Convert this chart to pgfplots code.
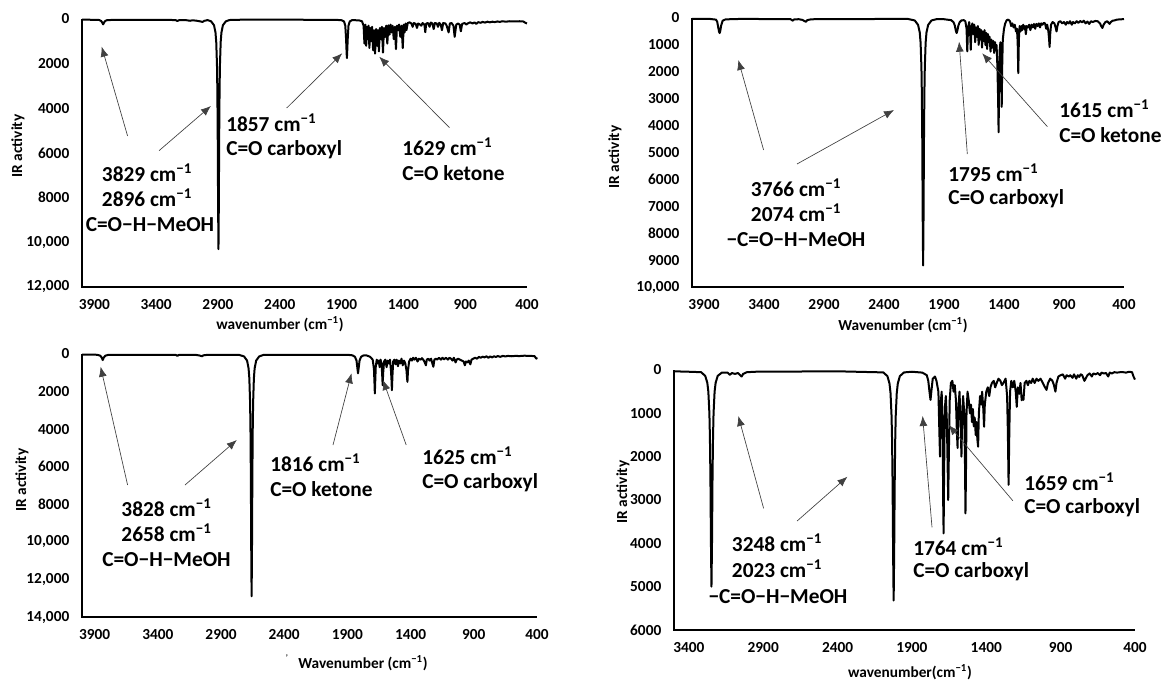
\documentclass[border=0pt]{standalone}
\usepackage{fontspec}
\setmainfont{Carlito}
\usepackage{pgfplots}
\pgfplotsset{compat=1.18}
\usetikzlibrary{arrows.meta}
\begin{document}
\begin{tikzpicture}
\pgfplotsset{irax/.style={scale only axis, x dir=reverse, y dir=reverse,
  axis line style={draw=none}, major tick length=0pt, clip=false,
  scaled y ticks=false, scaled x ticks=false,
  tick label style={font=\bfseries\fontsize{11.5}{13}\selectfont},
  xtick={400,900,1400,1900,2400,2900,3400,3900},
  xticklabels={400,900,1400,1900,2400,2900,3400,3900},
  xticklabel style={yshift=-5.5pt}, yticklabel style={xshift=-6pt},
  }}
\pgfplotsset{spec/.style={black, line width=1.5pt, line join=round, no marks}}
% ---------- Panel 1 ----------
\begin{axis}[irax, at={(82*0.75pt,-19*0.75pt)}, anchor=north west,
  width=445*0.75pt, height=268*0.75pt, xmin=400, xmax=4000, ymin=0, ymax=12000,
  ytick={0,2000,4000,6000,8000,10000,12000},
  yticklabels={0,2000,4000,6000,8000,{10,000},{12,000}}]
\addplot[spec] coordinates {
(4000,30)(3900,35)(3860,45)(3845,90)(3836,160)(3829,240)(3822,160)(3813,90)(3795,45)
(3300,35)(3240,55)(3228,90)(3216,55)(3160,50)(3125,80)(3110,60)(3080,70)(3040,110)(3025,130)(3010,80)(2990,60)
(2986,45)(2956,102)(2932,278)(2920,606)(2914,1030)(2908,2060)(2905,3170)(2902,5150)(2899,8240)(2896,10300)(2893,8240)(2890,5150)(2887,3170)(2884,2060)(2878,1030)(2872,606)(2860,278)(2836,102)(2806,45)(2700,30)
(1950,35)(1900,55)(1880,110)(1870,300)(1864,850)(1860,1400)(1857,1750)(1854,1400)(1850,850)(1844,300)(1834,110)(1815,50)(1760,60)
(1735,100)(1722,300)(1715,1100)(1708,250)(1701,1200)(1694,350)(1688,900)(1682,300)(1675,1300)(1668,400)(1661,1000)(1653,350)(1645,1400)(1637,500)(1629,1550)(1621,450)(1612,1200)(1605,500)(1598,1450)(1590,400)(1582,900)(1574,350)(1565,1500)(1557,400)(1548,800)(1539,300)(1530,1100)(1521,280)(1512,700)(1504,250)(1495,600)(1487,300)(1478,900)(1469,350)(1460,1350)(1452,300)(1445,500)(1435,250)(1425,800)(1415,300)(1405,1300)(1397,250)(1390,600)(1382,200)(1375,500)(1365,180)(1350,150)
(1335,200)(1325,350)(1315,180)(1300,220)(1290,400)(1280,200)(1265,250)(1255,300)(1245,180)(1230,250)(1223,590)(1215,200)(1200,180)(1188,350)(1178,160)(1165,200)(1155,450)(1145,180)(1130,200)(1120,350)(1110,170)(1098,250)(1088,500)(1078,180)(1060,200)(1050,300)(1034,600)(1024,200)(1010,180)(995,300)(985,800)(978,500)(972,250)(958,200)(945,250)(935,550)(925,220)(905,180)(890,250)(880,200)(860,150)(840,200)(825,150)(810,220)(795,140)(775,170)(760,130)(740,160)(720,120)(700,150)(680,120)(660,140)(640,110)(620,130)(600,100)(570,120)(540,100)(500,110)(460,100)(430,110)(410,180)(400,200)
};
\end{axis}
% ---------- Panel 2 ----------
\begin{axis}[irax, at={(692*0.75pt,-18*0.75pt)}, anchor=north west,
  width=432*0.75pt, height=269*0.75pt, xmin=400, xmax=4000, ymin=0, ymax=10000,
  ytick={0,1000,2000,3000,4000,5000,6000,7000,8000,9000,10000},
  yticklabels={0,1000,2000,3000,4000,5000,6000,7000,8000,9000,{10,000}}]
\addplot[spec] coordinates {
(4000,30)(3850,35)(3800,60)(3790,140)(3780,380)(3775,500)(3770,560)(3765,500)(3758,300)(3745,100)(3720,50)(3600,35)
(3180,40)(3160,100)(3148,50)(3110,45)(3080,70)(3060,120)(3050,140)(3040,80)(3010,50)(2950,40)
(2200,35)(2144,91)(2116,255)(2102,540)(2095,920)(2088,1840)(2084.5,2830)(2081,4600)(2077.5,7360)(2074,9200)(2070.5,7360)(2067,4600)(2063.5,2830)(2060,1840)(2053,920)(2046,540)(2032,255)(2004,91)(1960,40)
(1900,45)(1840,80)(1820,160)(1810,280)(1802,460)(1795,560)(1788,460)(1780,280)(1770,160)(1755,90)(1735,80)
(1722,120)(1712,400)(1706,1240)(1700,400)(1690,150)(1683,450)(1677,1180)(1671,400)(1664,200)(1655,600)(1648,250)(1640,900)(1633,350)(1625,700)(1618,300)(1611,1000)(1604,400)(1597,800)(1590,450)(1583,1100)(1576,500)(1569,850)(1562,450)(1555,1000)(1548,550)(1541,1150)(1534,600)(1527,900)(1520,700)(1512,1250)(1505,800)(1498,1100)(1490,850)(1482,1300)(1475,900)(1468,1200)(1462,1000)(1455,1800)(1449,3000)(1445,4250)(1441,2500)(1436,1200)(1430,900)(1424,1800)(1419,3300)(1415,1800)(1410,800)(1400,400)(1390,200)(1377,80)(1365,60)
(1350,120)(1340,300)(1330,200)(1320,350)(1310,250)(1300,500)(1292,400)(1286,900)(1281,2050)(1276,800)(1270,300)(1262,500)(1255,300)(1248,450)(1240,250)(1232,400)(1225,300)(1218,600)(1210,300)(1200,350)(1190,250)(1180,450)(1170,250)(1160,350)(1150,220)(1140,400)(1130,220)(1120,300)(1110,200)(1100,350)(1090,200)(1080,250)(1068,180)(1058,200)(1048,400)(1040,250)(1030,500)(1024,800)(1020,1080)(1015,600)(1008,250)(995,150)(980,200)(970,350)(962,500)(955,300)(945,150)(930,120)(915,200)(900,150)(885,250)(875,150)(860,200)(850,120)(835,250)(825,150)(810,200)(795,120)(780,180)(765,110)(750,160)(735,100)(720,200)(705,130)(690,220)(675,120)(660,150)(640,110)(620,120)(600,200)(590,300)(580,370)(570,250)(555,150)(540,120)(520,220)(510,150)(495,100)(480,90)(460,60)(430,50)(400,40)
};
\end{axis}
% ---------- Panel 3 ----------
\begin{axis}[irax, at={(82*0.75pt,-354*0.75pt)}, anchor=north west,
  width=455*0.75pt, height=263*0.75pt, xmin=400, xmax=4000, ymin=0, ymax=14000,
  ytick={0,2000,4000,6000,8000,10000,12000,14000},
  yticklabels={0,2000,4000,6000,8000,{10,000},{12,000},{14,000}}]
\addplot[spec] coordinates {
(4000,30)(3880,40)(3855,90)(3845,180)(3836,320)(3827,180)(3815,90)(3790,40)
(3260,40)(3245,100)(3235,50)(3100,45)(3070,80)(3050,120)(3040,70)(3000,40)
(2760,40)(2718,128)(2694,350)(2682,760)(2676,1290)(2670,2580)(2667,3970)(2664,6450)(2661,10320)(2658,12900)(2655,10320)(2652,6450)(2649,3970)(2646,2580)(2640,1290)(2634,760)(2622,350)(2598,128)(2560,40)
(1900,40)(1860,70)(1840,150)(1828,350)(1821,750)(1816,1030)(1811,750)(1804,350)(1792,150)(1775,80)(1750,70)
(1720,150)(1700,300)(1690,800)(1686,1500)(1683,2100)(1680,1500)(1676,700)(1668,300)(1660,500)(1652,350)(1645,700)(1638,300)
(1630,500)(1625,1100)(1621,1660)(1617,1000)(1610,400)(1600,300)(1590,700)(1582,350)(1572,500)(1563,300)(1555,900)(1551,1400)(1548,1925)(1544,1200)(1538,400)(1528,300)(1518,550)(1510,300)(1500,650)(1492,350)(1482,500)(1472,250)(1462,600)(1452,350)(1442,500)(1432,900)(1428,1300)(1425,1480)(1421,900)(1412,400)(1400,250)(1390,350)(1380,200)(1370,300)(1358,200)(1345,400)(1335,250)(1320,300)(1310,220)(1295,350)(1285,500)(1279,600)(1272,300)(1260,250)(1250,350)(1238,250)(1228,500)(1220,680)(1212,300)(1200,250)(1190,300)(1175,200)(1160,300)(1148,200)(1135,280)(1120,200)(1105,300)(1092,200)(1080,250)(1068,350)(1058,200)(1044,450)(1036,300)(1025,250)(1010,300)(995,350)(980,400)(971,600)(962,400)(950,450)(940,350)(927,550)(918,300)(905,250)(890,200)(875,250)(860,150)(845,200)(830,140)(815,180)(800,120)(785,200)(770,130)(755,180)(740,120)(725,160)(710,110)(690,150)(670,100)(650,130)(630,100)(600,120)(570,100)(540,110)(500,90)(460,100)(420,110)(405,250)(400,180)
};
\end{axis}
% ---------- Panel 4 ----------
\begin{axis}[irax, at={(674*0.75pt,-370*0.75pt)}, anchor=north west,
  width=461*0.75pt, height=260*0.75pt, xmin=400, xmax=3500, ymin=0, ymax=6000,
  xtick={400,900,1400,1900,2400,2900,3400},
  xticklabels={400,900,1400,1900,2400,2900,3400},
  ytick={0,1000,2000,3000,4000,5000,6000},
  yticklabels={0,1000,2000,3000,4000,5000,6000}]
\addplot[spec] coordinates {
(3500,30)(3400,40)(3318,50)(3290,135)(3276,294)(3269,500)(3262,1000)(3258.5,1540)(3255,2500)(3251.5,4000)(3248,5000)(3244.5,4000)(3241,2500)(3237.5,1540)(3234,1000)(3227,500)(3220,294)(3206,135)(3178,60)
(3140,60)(3125,110)(3110,70)(3090,90)(3070,70)(3055,120)(3045,150)(3035,90)(3010,50)(2950,40)
(2400,30)(2093,55)(2065,140)(2051,310)(2044,530)(2037,1060)(2033.5,1640)(2030,2660)(2026.5,4250)(2023,5320)(2019.5,4250)(2016,2660)(2012.5,1640)(2009,1060)(2002,530)(1995,310)(1981,140)(1953,55)(1900,40)
(1830,60)(1800,120)(1790,250)(1782,500)(1775,690)(1768,450)(1760,200)(1745,150)(1735,250)
(1722,500)(1715,1500)(1711,2000)(1707,800)(1700,500)(1693,1500)(1690,3000)(1687,3770)(1684,2500)(1679,900)(1672,600)(1665,1200)(1660,2200)(1656,3000)(1652,2000)(1646,700)(1638,300)(1628,250)(1620,500)(1612,350)(1604,700)(1598,1400)(1593,1800)(1588,900)(1580,500)(1572,1300)(1567,2000)(1563,1200)(1556,600)(1548,1000)(1543,2200)(1540,3310)(1537,2500)(1533,1000)(1526,500)(1518,700)(1510,1000)(1503,800)(1496,1200)(1490,900)(1484,1300)(1478,1100)(1471,1500)(1466,1200)(1460,1600)(1455,1770)(1450,1000)(1442,600)(1434,800)(1428,500)(1420,900)(1415,1310)(1410,800)(1400,500)(1390,400)(1380,600)(1372,400)(1362,300)(1350,250)(1340,400)(1330,300)(1318,200)(1305,250)(1295,350)(1285,300)(1270,200)(1260,600)(1255,1400)(1250,2650)(1245,1400)(1240,500)(1232,250)(1222,400)(1212,250)(1202,500)(1195,850)(1188,400)(1178,550)(1170,300)(1162,700)(1155,600)(1150,690)(1142,300)(1130,250)(1120,350)(1110,250)(1098,300)(1088,200)(1075,300)(1062,200)(1050,250)(1035,200)(1020,300)(1005,400)(995,460)(985,300)(970,200)(955,250)(945,350)(935,500)(928,300)(915,150)(900,120)(885,100)(870,200)(860,120)(845,150)(835,120)(820,180)(810,100)(795,200)(785,120)(775,160)(765,100)(755,120)(740,250)(732,200)(720,120)(705,80)(690,150)(680,80)(665,100)(650,70)(635,120)(625,60)(610,80)(595,70)(580,150)(570,60)(555,80)(540,50)(520,60)(500,50)(480,50)(460,60)(440,40)(420,50)(410,150)(400,220)
};
\end{axis}
% ---------- annotations (pixel coordinates) ----------
\begin{scope}[x=0.75pt,y=-0.75pt]
\useasboundingbox (0,0) rectangle (1164,679);
\tikzset{ax/.style={line width=1.5pt, black},
  arr/.style={line width=0.5pt, black!75, -{Latex[length=7.5pt,width=6pt]}},
  ann/.style={font=\bfseries\fontsize{16}{19}\selectfont, inner sep=0pt},
  lab/.style={font=\bfseries\fontsize{11.5}{13}\selectfont, inner sep=0pt}}
% axis lines
\draw[ax] (82,19) -- (82,287) -- (527,287);
\draw[ax] (692,18) -- (692,287) -- (1124,287);
\draw[ax] (82,354) -- (82,617) -- (537,617);
\draw[ax] (674,370) -- (674,630) -- (1135,630);
% axis labels
\node[lab] at (280,324) {wavenumber (cm\textsuperscript{−1})};
\node[lab, rotate=90] at (18,146) {IR activity};
\node[lab] at (903,325) {Wavenumber (cm\textsuperscript{−1})};
\node[lab, rotate=90] at (615,157) {IR activity};
\node[lab] at (363,663) {Wavenumber (cm\textsuperscript{−1})};
\node[lab] at (287,658) {\fontsize{6}{6}\selectfont '};
\node[lab, rotate=90] at (22,480) {IR activity};
\node[lab] at (910,672) {wavenumber(cm\textsuperscript{−1})};
\node[lab, rotate=90] at (623,492) {IR activity};
% panel 1
\draw[arr] (127.6,136) -- (101.7,46.7);
\draw[arr] (159,150.7) -- (210.9,106);
\draw[arr] (286.7,108) -- (342.2,53.3);
\draw[arr] (449.5,127.7) -- (379.2,56.7);
\node[ann] at (147,173) {3829 cm\textsuperscript{−1}};
\node[ann] at (147,198) {2896 cm\textsuperscript{−1}};
\node[ann] at (150,225) {C=O−H−MeOH};
\node[ann, anchor=west] at (226,123) {1857 cm\textsuperscript{−1}};
\node[ann, anchor=west] at (226,150) {C=O carboxyl};
\node[ann, anchor=west] at (402,147) {1629 cm\textsuperscript{−1}};
\node[ann, anchor=west] at (402,173) {C=O ketone};
% panel 2
\draw[arr] (763.6,150) -- (738.3,60);
\draw[arr] (797,164) -- (894,110);
\draw[arr] (967.3,154) -- (959.1,41.7);
\draw[arr] (1047.4,126.7) -- (982.2,53.3);
\node[ann] at (796,188) {3766 cm\textsuperscript{−1}};
\node[ann] at (796,213) {2074 cm\textsuperscript{−1}};
\node[ann] at (796,240) {−C=O−H−MeOH};
\node[ann, anchor=west] at (948,173) {1795 cm\textsuperscript{−1}};
\node[ann, anchor=west] at (948,199) {C=O carboxyl};
\node[ann, anchor=west] at (1059,109) {1615 cm\textsuperscript{−1}};
\node[ann, anchor=west] at (1059,135) {C=O ketone};
% panel 3
\draw[arr] (127.6,485) -- (100.6,366.7);
\draw[arr] (185,485) -- (236.8,440);
\draw[arr] (333,445) -- (351.5,373.3);
\draw[arr] (406.2,445) -- (383,380);
\node[ann] at (166.5,508) {3828 cm\textsuperscript{−1}};
\node[ann] at (166.5,533) {2658 cm\textsuperscript{−1}};
\node[ann] at (166.5,560) {C=O−H−MeOH};
\node[ann, anchor=west] at (270,463) {1816 cm\textsuperscript{−1}};
\node[ann, anchor=west] at (270,489) {C=O ketone};
\node[ann, anchor=west] at (422,456) {1625 cm\textsuperscript{−1}};
\node[ann, anchor=west] at (422,483) {C=O carboxyl};
% panel 4
\draw[arr] (763.6,508.3) -- (738.3,416);
\draw[arr] (797.1,521) -- (847.4,476.7);
\draw[arr] (932,527.3) -- (922.6,416);
\draw[arr] (1012.8,500.7) -- (948.7,425);
\node[ann] at (777,543) {3248 cm\textsuperscript{−1}};
\node[ann] at (777,569) {2023 cm\textsuperscript{−1}};
\node[ann] at (778,597) {−C=O−H−MeOH};
\node[ann, anchor=west] at (913,547) {1764 cm\textsuperscript{−1}};
\node[ann, anchor=west] at (913,572) {C=O carboxyl};
\node[ann, anchor=west] at (1024,482) {1659 cm\textsuperscript{−1}};
\node[ann, anchor=west] at (1024,508) {C=O carboxyl};
\end{scope}
\end{tikzpicture}
\end{document}
